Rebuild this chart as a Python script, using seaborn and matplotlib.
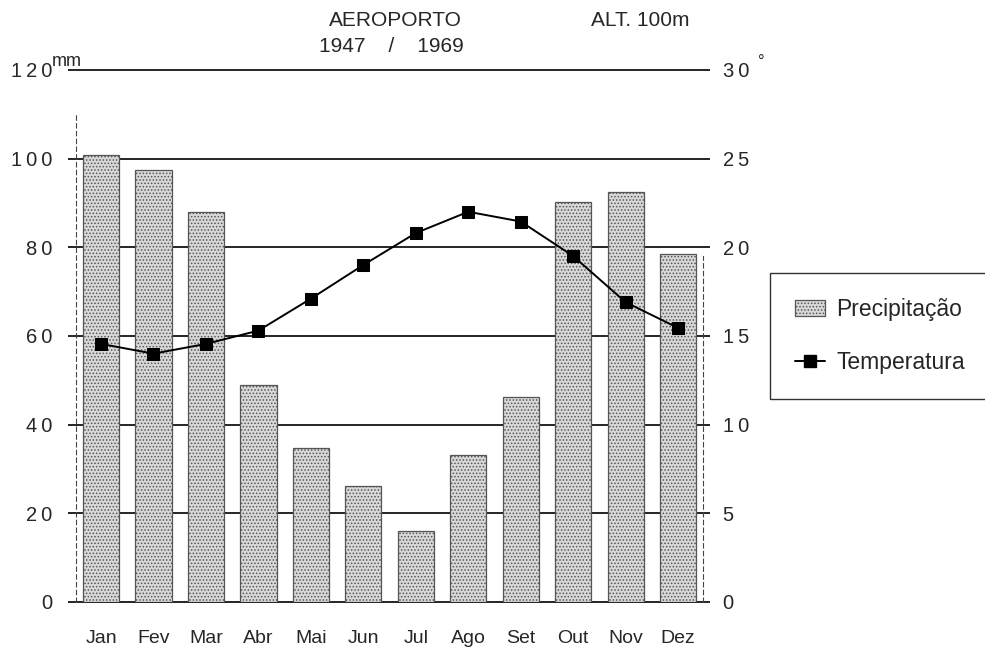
#climate chart: precipitation bars + temperature line (Aeroporto 1947/1969)

import numpy as np
import pandas as pd
import matplotlib
matplotlib.use("Agg")
import matplotlib.pyplot as plt
import seaborn as sns

# --- data ---
months = ["Jan", "Fev", "Mar", "Abr", "Mai", "Jun", "Jul", "Ago", "Set", "Out", "Nov", "Dez"]
precip_mm = [100.7, 97.5, 88.0, 49.0, 34.7, 26.2, 16.0, 33.2, 46.2, 90.2, 92.5, 78.5]
temp_c = [14.55, 14.0, 14.55, 15.3, 17.1, 19.0, 20.8, 22.0, 21.45, 19.5, 16.9, 15.45]
precip_ticks = [0, 20, 40, 60, 80, 100, 120]
temp_ticks = [0, 5, 10, 15, 20, 25, 30]

df = pd.DataFrame({"mes": months, "precip": precip_mm, "temp": temp_c, "pos": np.arange(len(months))})

sns.set_style("white")
plt.rcParams["font.family"] = ["Liberation Sans", "DejaVu Sans"]
plt.rcParams["hatch.color"] = "#666666"
plt.rcParams["hatch.linewidth"] = 0.7

THIN = "\u2009"
def spaced(n):
    # the original print puts little gaps between digits
    return THIN.join(str(n))

fig = plt.figure(figsize=(9.85, 6.59), dpi=100)
ax = fig.add_axes([0.077, 0.0865, 0.637, 0.8075])

# --- bars (precipitation) ---
sns.barplot(data=df, x="pos", y="precip", ax=ax, color="#d8d8d8", width=0.69,
            edgecolor="#555555", linewidth=0.9, zorder=3, native_scale=True)
for p in ax.patches:
    p.set_hatch(".....")

# horizontal reference lines (behind bars, a bit longer than the axes)
ax.hlines(precip_ticks, -0.012, 1.01, colors="black", linewidth=1.2,
          transform=ax.get_yaxis_transform(), clip_on=False, zorder=1)

ax.set_ylim(0, 120)
ax.set_xlim(-0.48, 11.48)
ax.set_yticks(precip_ticks)
ax.set_yticklabels([spaced(t) for t in precip_ticks])
ax.set_xticks(df["pos"])
ax.set_xticklabels(months)
ax.tick_params(axis="y", length=0, pad=17, labelsize=14.5)
ax.tick_params(axis="x", length=0, pad=20, labelsize=14)
ax.set_xlabel("")
ax.set_ylabel("")
for s in ["top", "right", "bottom"]:
    ax.spines[s].set_visible(False)
ax.spines["left"].set_linestyle((0, (4, 3)))
ax.spines["left"].set_linewidth(0.8)
ax.spines["left"].set_color("#444444")
ax.spines["left"].set_bounds(0, 110)

# --- line (temperature) on right axis ---
ax2 = ax.twinx()
sns.lineplot(data=df, x="pos", y="temp", ax=ax2, color="black", linewidth=1.4,
             marker="s", markersize=8, markeredgecolor="black", zorder=5)
ax2.set_ylim(0, 30)
ax2.set_yticks(temp_ticks)
ax2.set_yticklabels([spaced(t) for t in temp_ticks])
ax2.tick_params(axis="y", length=0, pad=14, labelsize=14.5)
ax2.set_ylabel("")
ax2.set_xlabel("")
for s in ["top", "left", "bottom"]:
    ax2.spines[s].set_visible(False)
ax2.spines["right"].set_linestyle((0, (4, 3)))
ax2.spines["right"].set_linewidth(0.8)
ax2.spines["right"].set_color("#444444")
ax2.spines["right"].set_bounds(0, 19.5)

# unit marks
fig.text(52 / 985, 1 - 70 / 659, "mm", fontsize=13, ha="left", va="bottom")
fig.text(758 / 985, 1 - 70 / 659, "°", fontsize=12, ha="left", va="bottom")

# titles
fig.text(395 / 985, 1 - 21 / 659, "AEROPORTO", fontsize=15, ha="center", va="center")
fig.text(391 / 985, 1 - 47 / 659, "1947    /    1969", fontsize=15, ha="center", va="center")
fig.text(640 / 985, 1 - 20 / 659, "ALT. 100m", fontsize=15, ha="center", va="center")

# --- legend outside on the right ---
bar_handle = plt.Rectangle((0, 0), 1, 1, facecolor="#d8d8d8", edgecolor="#555555",
                           hatch=".....", linewidth=0.9)
line_handle = plt.Line2D([], [], color="black", marker="s", markersize=8, linewidth=1.4)
leg = fig.legend([bar_handle, line_handle], ["Precipitação", "Temperatura"],
                 loc="upper left", bbox_to_anchor=(770 / 985, 1 - 273 / 659),
                 borderaxespad=0, fontsize=16.5, frameon=True, fancybox=False,
                 edgecolor="black", handlelength=1.3, handletextpad=0.5,
                 borderpad=1.1, labelspacing=1.3)
leg.get_frame().set_linewidth(1.0)

fig.savefig("out.png", dpi=100)
